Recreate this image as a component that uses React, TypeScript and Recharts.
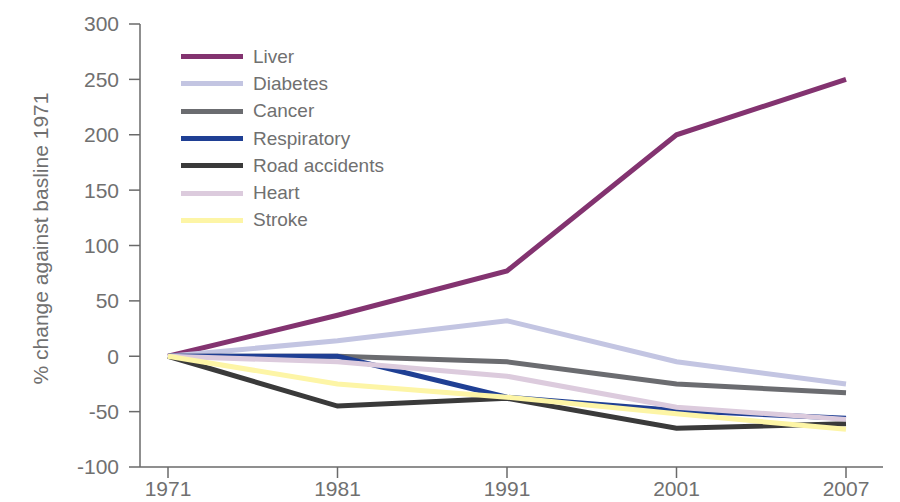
import React from 'react';
import { LineChart, Line, XAxis, YAxis, Legend } from 'recharts';

const years = ['1971', '1981', '1991', '2001', '2007'];
const liver = [0, 37, 77, 200, 250];
const diabetes = [0, 14, 32, -5, -25];
const cancer = [0, 0, -5, -25, -33];
const respiratory = [0, 0, -37, -49, -56];
const roadAccidents = [0, -45, -38, -65, -61];
const heart = [0, -5, -18, -46, -57];
const stroke = [0, -25, -37, -52, -66];
const yTicks = [-100, -50, 0, 50, 100, 150, 200, 250, 300];

const series = [
  { key: 'liver', name: 'Liver', color: '#833370', values: liver },
  { key: 'diabetes', name: 'Diabetes', color: '#c3c5e2', values: diabetes },
  { key: 'cancer', name: 'Cancer', color: '#6b6c70', values: cancer },
  { key: 'respiratory', name: 'Respiratory', color: '#1f3f94', values: respiratory },
  { key: 'road', name: 'Road accidents', color: '#3a3a3a', values: roadAccidents },
  { key: 'heart', name: 'Heart', color: '#dccbdd', values: heart },
  { key: 'stroke', name: 'Stroke', color: '#fdf5a6', values: stroke },
];

const data = years.map((y, i) => {
  const row: any = { year: y };
  series.forEach((s) => {
    row[s.key] = s.values[i];
  });
  return row;
});

const FONT = '"Liberation Sans", Arial, sans-serif';
const TEXT = '#707070';
const AXIS = '#6a6a6a';

const LegendContent = () => (
  <div style={{ fontFamily: FONT }}>
    {series.map((s) => (
      <div key={s.key} style={{ display: 'flex', alignItems: 'center', height: 27.3 }}>
        <div style={{ width: 62, height: 5, background: s.color, marginRight: 10 }} />
        <span style={{ fontSize: 19, color: TEXT, lineHeight: '20px' }}>{s.name}</span>
      </div>
    ))}
  </div>
);

export default function App() {
  return (
    <div style={{ position: 'absolute', left: 0, top: 0, width: 900, height: 502, background: '#fff' }}>
      <LineChart width={900} height={502} data={data} margin={{ top: 24, right: 17, bottom: 5, left: 0 }}>
        <XAxis
          dataKey="year"
          height={30}
          padding={{ left: 28, right: 37 }}
          stroke={AXIS}
          strokeWidth={1.5}
          tickLine={{ stroke: AXIS, strokeWidth: 1.5 }}
          tickSize={11}
          tick={{ fill: TEXT, fontSize: 21, fontFamily: FONT }}
          tickMargin={3}
        />
        <YAxis
          width={140}
          domain={[-100, 300]}
          ticks={yTicks}
          interval={0}
          stroke={AXIS}
          strokeWidth={1.5}
          tickLine={{ stroke: AXIS, strokeWidth: 1.5 }}
          tickSize={11}
          tickMargin={10}
          tick={{ fill: TEXT, fontSize: 21, fontFamily: FONT }}
          label={{
            value: '% change against basline 1971',
            angle: -90,
            position: 'insideLeft',
            offset: 0,
            dx: 41,
            dy: -7,
            style: { fill: TEXT, fontSize: 21, fontFamily: FONT, textAnchor: 'middle' },
          }}
        />
        <Legend
          layout="vertical"
          verticalAlign="middle"
          align="center"
          wrapperStyle={{ left: 181, top: 43, width: 260, height: 200 }}
          content={<LegendContent />}
        />
        {series.map((s) => (
          <Line
            key={s.key}
            type="linear"
            dataKey={s.key}
            name={s.name}
            stroke={s.color}
            strokeWidth={5}
            dot={false}
            activeDot={false}
            isAnimationActive={false}
          />
        ))}
      </LineChart>
    </div>
  );
}
